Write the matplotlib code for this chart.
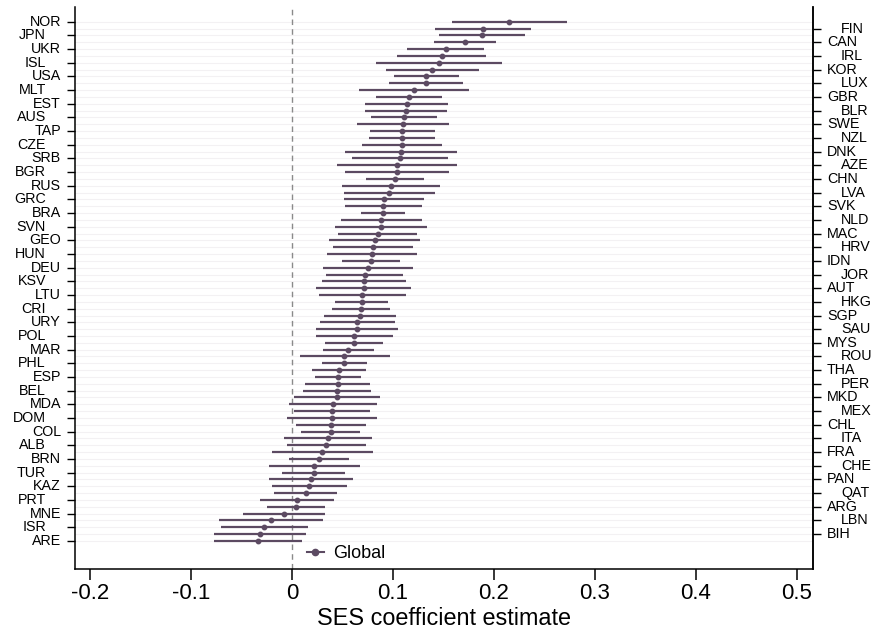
import matplotlib
matplotlib.use("Agg")
import matplotlib.pyplot as plt
from matplotlib.lines import Line2D
import numpy as np

countries = ["NOR","FIN","JPN","CAN","UKR","IRL","ISL","KOR","USA","LUX","MLT","GBR","EST","BLR",
             "AUS","SWE","TAP","NZL","CZE","DNK","SRB","AZE","BGR","CHN","RUS","LVA","GRC","SVK",
             "BRA","NLD","SVN","MAC","GEO","HRV","HUN","IDN","DEU","JOR","KSV","AUT","LTU","HKG",
             "CRI","SGP","URY","SAU","POL","MYS","MAR","ROU","PHL","THA","ESP","PER","BEL","MKD",
             "MDA","MEX","DOM","CHL","COL","ITA","ALB","FRA","BRN","CHE","TUR","PAN","KAZ","QAT",
             "PRT","ARG","MNE","LBN","ISR","BIH","ARE"]

estimate = [0.215, 0.189, 0.188, 0.171, 0.152, 0.148, 0.1455, 0.139, 0.133, 0.133, 0.121, 0.116,
            0.114, 0.113, 0.1106, 0.1102, 0.1092, 0.1089, 0.1086, 0.1079, 0.1066, 0.1043, 0.104,
            0.1017, 0.0977, 0.0964, 0.0908, 0.0904, 0.0901, 0.0884, 0.0878, 0.0848, 0.0818, 0.0805,
            0.0792, 0.0785, 0.0752, 0.0719, 0.0713, 0.071, 0.0696, 0.069, 0.0686, 0.0673, 0.0647,
            0.0644, 0.0617, 0.0611, 0.0554, 0.0518, 0.0518, 0.0462, 0.0459, 0.0452, 0.0446, 0.0442,
            0.0403, 0.0396, 0.0393, 0.0386, 0.0383, 0.0353, 0.034, 0.030, 0.0271, 0.0221, 0.0215,
            0.0185, 0.0172, 0.0135, 0.0046, 0.004, -0.0083, -0.0208, -0.0274, -0.0317, -0.0337]

ci_low = [0.158, 0.1416, 0.1455, 0.1406, 0.1139, 0.104, 0.0832, 0.0927, 0.1007, 0.0957, 0.0667,
          0.0835, 0.0726, 0.0726, 0.0779, 0.0647, 0.0772, 0.0762, 0.0693, 0.0521, 0.0591, 0.0446,
          0.0521, 0.0729, 0.0492, 0.0512, 0.0512, 0.0521, 0.068, 0.0482, 0.0422, 0.0459, 0.0366,
          0.0406, 0.035, 0.0495, 0.031, 0.034, 0.0294, 0.0238, 0.0267, 0.0422, 0.0396, 0.0314,
          0.0281, 0.0234, 0.0234, 0.0327, 0.0307, 0.0076, 0.0297, 0.0201, 0.0231, 0.0132, 0.0112,
          0.0017, -0.0033, 0.0023, -0.0046, 0.0036, 0.0089, -0.0079, -0.0053, -0.0201, -0.0026,
          -0.0231, -0.0102, -0.0231, -0.0198, -0.0178, -0.0317, -0.0248, -0.0488, -0.0719, -0.0703,
          -0.0772, -0.0772]

ci_high = [0.272, 0.2366, 0.231, 0.2017, 0.190, 0.192, 0.208, 0.1848, 0.165, 0.1696, 0.175, 0.1485,
           0.1548, 0.1535, 0.1432, 0.1558, 0.1413, 0.1416, 0.1482, 0.1634, 0.1541, 0.1637, 0.1554,
           0.1304, 0.1462, 0.1416, 0.1304, 0.1287, 0.1119, 0.1287, 0.1337, 0.1238, 0.1271, 0.1201,
           0.1234, 0.1073, 0.1195, 0.1099, 0.1129, 0.1181, 0.1125, 0.0954, 0.097, 0.103, 0.102,
           0.1053, 0.1003, 0.0898, 0.0809, 0.0967, 0.0743, 0.0733, 0.0686, 0.0776, 0.0782, 0.0871,
           0.0842, 0.0769, 0.0838, 0.0736, 0.0677, 0.0789, 0.0733, 0.0805, 0.0568, 0.067, 0.0528,
           0.0601, 0.0545, 0.0449, 0.0416, 0.033, 0.0327, 0.0307, 0.0158, 0.0139, 0.0096]

x_ticks = [-0.2, -0.1, 0, 0.1, 0.2, 0.3, 0.4, 0.5]
x_ticklabels = ["-0.2", "-0.1", "0", "0.1", "0.2", "0.3", "0.4", "0.5"]

plt.rcParams['font.family'] = ['Liberation Sans', 'DejaVu Sans']

col = '#5c4a62'
fig = plt.figure(figsize=(8.83, 6.37), dpi=100)
ax = fig.add_axes([75/883, 1-569/637, (813-75)/883, (569-7)/637])

rows = np.arange(len(countries))
est = np.array(estimate)
lo = np.array(ci_low)
hi = np.array(ci_high)

for r in rows:
    ax.axhline(r, color='#f3f1f3', lw=0.8, zorder=0)

ax.axvline(0, color='#8a8a8a', lw=1.0, ls=(0, (4, 3)), zorder=1)
ax.hlines(rows, lo, hi, color=col, lw=1.6, zorder=2)
ax.plot(est, rows, 'o', color=col, ms=3.2, zorder=3)

ax.set_xlim(-0.2149, 0.5158)
ax.set_ylim(80.1, -2.15)

ax.spines['top'].set_visible(False)
for s in ['left', 'right', 'bottom']:
    ax.spines[s].set_linewidth(1.1)

ax.set_xticks(x_ticks)
ax.set_xticklabels(x_ticklabels, fontsize=16)
ax.tick_params(axis='x', direction='out', length=8, width=1.1, pad=2)

left_rows = rows[0::2]
right_rows = rows[1::2]
ax.set_yticks(left_rows)
ax.set_yticklabels([])
ax.tick_params(axis='y', which='both', direction='out', length=5.8, width=1.0,
               left=True, right=False)
ax2 = ax.secondary_yaxis('right')
ax2.set_yticks(right_rows)
ax2.set_yticklabels([])
ax2.tick_params(direction='out', length=5.8, width=1.0)
ax2.spines['right'].set_linewidth(1.1)

for i, r in enumerate(left_rows):
    off = -10.1 if i % 2 == 0 else -20.9
    ax.annotate(countries[r], xy=(0, r), xycoords=('axes fraction', 'data'),
                xytext=(off, 0), textcoords='offset points', ha='right',
                va='center', fontsize=10.3)
for i, r in enumerate(right_rows):
    off = 20.2 if i % 2 == 0 else 10.1
    ax.annotate(countries[r], xy=(1, r), xycoords=('axes fraction', 'data'),
                xytext=(off, 0), textcoords='offset points', ha='left',
                va='center', fontsize=10.3)

ax.set_xlabel("SES coefficient estimate", fontsize=16.8, labelpad=2)

handle = Line2D([], [], color=col, lw=1.5, marker='o', ms=4.5)
ax.legend([handle], ["Global"], loc='center left',
          bbox_to_anchor=((306.7-75)/738, (569-554)/562), frameon=False,
          fontsize=13, handlelength=0.95, handletextpad=0.5, borderpad=0,
          borderaxespad=0)

fig.savefig("out.png", dpi=100)
